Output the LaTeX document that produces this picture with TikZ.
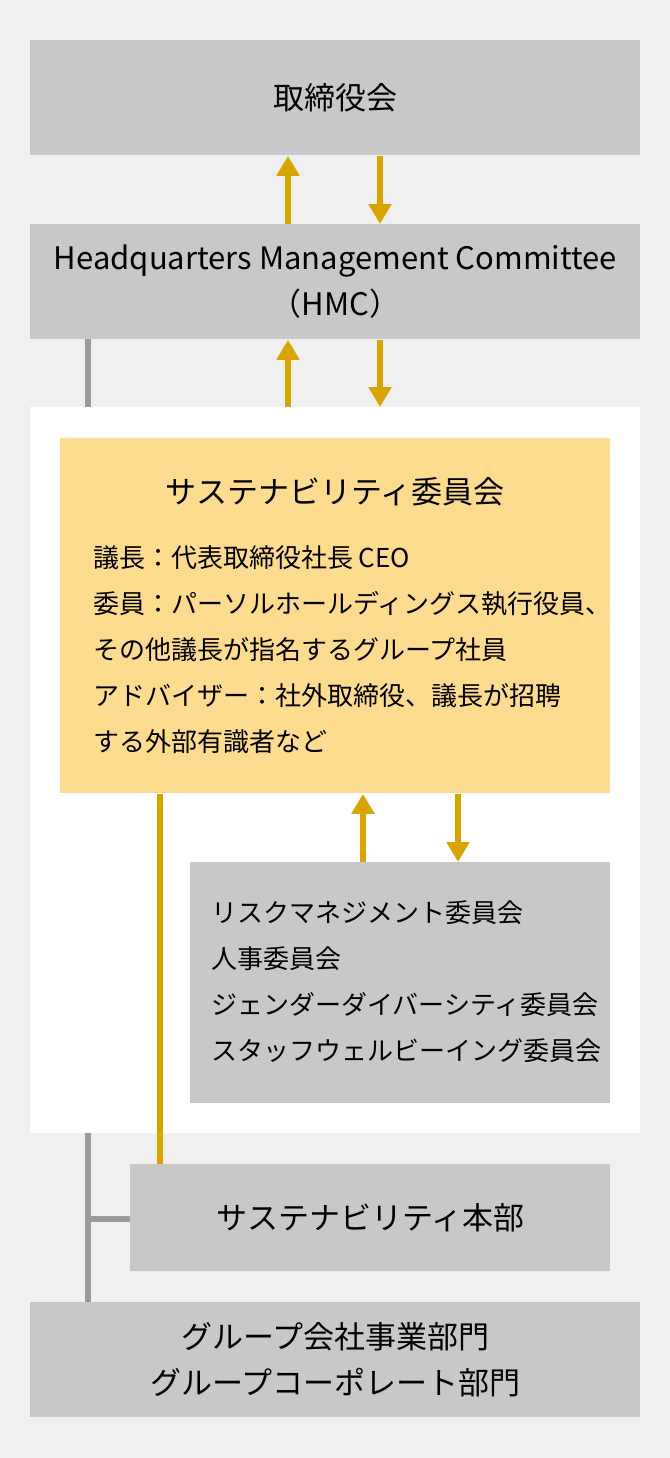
\documentclass[tikz,border=0pt]{standalone}
\usepackage{fontspec}
\setmainfont{Noto Sans CJK JP}
\usetikzlibrary{arrows.meta}
\definecolor{bggray}{HTML}{F0F0F0}
\definecolor{boxgray}{HTML}{C8C8CA}
\definecolor{linegray}{HTML}{9A9A9E}
\definecolor{gold}{HTML}{D9A400}
\definecolor{paleyellow}{HTML}{FDDC8F}
\begin{document}
\begin{tikzpicture}[
    x=0.5pt, y=-0.5pt,
    box/.style={fill=boxgray, draw=none, inner sep=0pt, align=center},
    goldarrow/.style={draw=gold, line width=3pt, -{Triangle[length=10pt,width=11pt]}},
    goldline/.style={draw=gold, line width=3pt},
    grayline/.style={draw=linegray, line width=3pt},
    title/.style={font=\fontsize{15.5}{23}\selectfont},
    body/.style={font=\fontsize{13}{23}\selectfont, align=left, anchor=west}
]
    % background
    \fill[bggray] (0,0) rectangle (670,1458);
    \useasboundingbox (0,0) rectangle (670,1458);

    % gray structure line
    \draw[grayline] (88,339) -- (88,1302);
    \draw[grayline] (88,1219) -- (130,1219);

    % white panel
    \fill[white] (30,407) rectangle (640,1133);

    % boxes
    \node[box, minimum width=305pt, minimum height=57.5pt, anchor=north west, title] (board) at (30,40) {取締役会};
    \node[box, minimum width=305pt, minimum height=57.5pt, anchor=north west, title] (hmc) at (30,224) {Headquarters Management Committee\\（HMC）};
    \coordinate (panel) at (30,407);
    \node[box, fill=paleyellow, minimum width=275pt, minimum height=177.5pt, anchor=north west] (scom) at (60,438) {};
    \node[title, anchor=center] (stitle) at (335,492) {サステナビリティ委員会};
    \node[body] (members) at (86,650) {議長：代表取締役社長 CEO\\委員：パーソルホールディングス執行役員、\\その他議長が指名するグループ社員\\アドバイザー：社外取締役、議長が招聘\\する外部有識者など};
    \node[box, minimum width=210pt, minimum height=120.5pt, anchor=north west] (subcom) at (190,862) {};
    \node[body] (sublist) at (204,982) {リスクマネジメント委員会\\人事委員会\\ジェンダーダイバーシティ委員会\\スタッフウェルビーイング委員会};
    \node[box, minimum width=240pt, minimum height=53.5pt, anchor=north west, title] (hq) at (130,1164) {サステナビリティ本部};
    \node[box, minimum width=305pt, minimum height=57.5pt, anchor=north west, title] (groups) at (30,1302) {グループ会社事業部門\\グループコーポレート部門};

    % arrows
    \draw[goldarrow] (hmc.north -| 288,0) -- (board.south -| 288,0);
    \draw[goldarrow] (board.south -| 380,0) -- (hmc.north -| 380,0);
    \draw[goldarrow] (panel -| 288,0) -- (hmc.south -| 288,0);
    \draw[goldarrow] (hmc.south -| 380,0) -- (panel -| 380,0);
    \draw[goldarrow] (subcom.north -| 363,0) -- (scom.south -| 363,0);
    \draw[goldarrow] (scom.south -| 458,0) -- (subcom.north -| 458,0);
    \draw[goldline] (scom.south -| 160,0) -- (hq.north -| 160,0);
\end{tikzpicture}
\end{document}
